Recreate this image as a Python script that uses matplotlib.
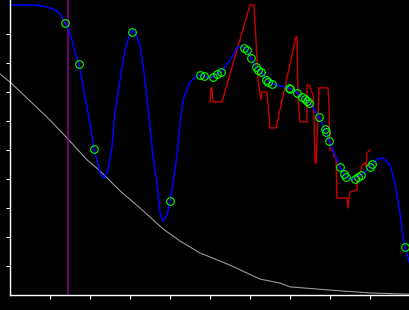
import matplotlib
matplotlib.use("Agg")
import matplotlib.pyplot as plt

# smooth fit (blue)
fit_x = [0.0, 0.55, 0.875, 1.125, 1.25, 1.375, 1.45, 1.55, 1.625, 1.725, 1.8, 1.875,
         1.95, 2.0, 2.075, 2.1, 2.175, 2.25, 2.35, 2.45, 2.55, 2.625, 2.75, 2.875,
         3.0, 3.075, 3.15, 3.25, 3.375, 3.5, 3.575, 3.675, 3.75, 3.825, 3.925, 4.0,
         4.075, 4.175, 4.25, 4.325, 4.5, 4.625, 4.75, 4.85, 4.95, 5.075, 5.175, 5.275,
         5.5, 5.675, 5.8, 5.925, 6.025, 6.15, 6.275, 6.425, 6.575, 6.75, 6.975, 7.175,
         7.375, 7.5, 7.725, 7.9, 8.0, 8.125, 8.25, 8.4, 8.55, 8.7, 8.875, 9.05,
         9.2, 9.325, 9.5, 9.625, 9.75, 9.825, 9.875, 10.0]
fit_y = [10.0, 10.0, 9.95, 9.83, 9.69, 9.41, 9.21, 8.79, 8.38, 7.97, 7.41, 6.83,
         6.28, 5.93, 5.24, 5.03, 4.66, 4.21, 4.03, 4.31, 5.10, 6.28, 7.41, 8.45,
         9.03, 9.14, 8.97, 8.62, 7.41, 5.79, 4.83, 3.86, 2.83, 2.55, 2.76, 3.24,
         3.86, 4.83, 5.86, 6.72, 7.34, 7.52, 7.59, 7.55, 7.48, 7.52, 7.62, 7.69,
         8.10, 8.52, 8.59, 8.45, 8.17, 7.86, 7.69, 7.41, 7.28, 7.21, 7.14, 6.97,
         6.76, 6.62, 6.14, 5.62, 5.24, 4.83, 4.41, 4.07, 3.97, 4.07, 4.24, 4.52,
         4.69, 4.72, 4.48, 3.86, 2.83, 2.0, 1.66, 1.03]

# sampled points (green circles)
pts_x = [1.375, 1.725, 2.1, 3.05, 4.0, 4.75, 4.85, 5.075, 5.175, 5.275,
         5.85, 5.925, 6.025, 6.15, 6.2, 6.275, 6.4, 6.45, 6.55, 6.975,
         7.0, 7.175, 7.3, 7.375, 7.425, 7.475, 7.725, 7.875, 7.9, 7.975,
         8.25, 8.35, 8.4, 8.625, 8.7, 8.775, 9.0, 9.05, 9.875]
pts_y = [9.38, 7.97, 5.03, 9.07, 3.24, 7.59, 7.55, 7.52, 7.62, 7.69,
         8.52, 8.45, 8.17, 7.86, 7.76, 7.69, 7.41, 7.34, 7.28, 7.14,
         7.10, 6.97, 6.83, 6.76, 6.69, 6.62, 6.14, 5.72, 5.62, 5.31,
         4.41, 4.17, 4.07, 4.0, 4.07, 4.14, 4.41, 4.52, 1.66]

# raw signal (red)
raw_x = [5.0, 5.025, 5.05, 5.075, 5.3, 6.0, 6.1, 6.15, 6.2, 6.275, 6.3, 6.425,
         6.45, 6.5, 6.65, 7.15, 7.175, 7.2, 7.25, 7.425, 7.425, 7.475, 7.55, 7.575,
         7.6, 7.625, 7.65, 7.675, 7.725, 7.95, 7.975, 8.0, 8.075, 8.1, 8.15, 8.175,
         8.425, 8.45, 8.475, 8.5, 8.675, 8.675, 8.75, 8.8, 8.875, 8.9, 8.925, 9.0]
raw_y = [6.66, 7.14, 7.14, 6.66, 6.66, 10.0, 10.0, 8.79, 7.41, 6.72, 7.0, 7.0,
         6.55, 5.76, 5.76, 8.90, 8.90, 6.72, 5.97, 5.97, 7.24, 7.24, 7.0, 6.90,
         6.14, 4.55, 4.55, 5.28, 7.14, 7.14, 6.55, 5.0, 5.0, 4.76, 4.76, 3.34,
         3.34, 3.0, 3.34, 3.55, 3.62, 3.90, 4.07, 4.48, 4.55, 4.41, 4.90, 5.0]

# decaying curve (gray)
decay_x = [-0.25, 0.025, 0.5, 1.0, 1.45, 1.925, 2.25, 2.75, 3.25, 3.825, 4.25,
           4.75, 5.5, 6.25, 6.75, 7.0, 8.0, 9.0, 10.0]
decay_y = [7.62, 7.31, 6.69, 6.03, 5.38, 4.66, 4.28, 3.59, 3.0, 2.28, 1.86,
           1.45, 1.03, 0.55, 0.41, 0.28, 0.17, 0.07, 0.03]

marker_x = 1.45

y_lo, y_hi = -0.517, 10.17

fig = plt.figure(figsize=(4.1, 3.1), dpi=100)
fig.patch.set_facecolor("black")
ax = fig.add_axes([0, 0, 1, 1])
ax.set_facecolor("black")

ax.plot(decay_x, decay_y, color="#999999", lw=0.8)
ax.axvline(marker_x, ymin=-y_lo / (y_hi - y_lo), ymax=1.0, color="#8b008b", lw=1.1)
ax.plot(raw_x, raw_y, color="#cc0000", lw=1.0)
ax.plot(fit_x, fit_y, color="#0000ff", lw=1.1)
ax.plot(pts_x, pts_y, "o", mfc="none", mec="#00ff00", mew=0.8, ms=5.5)

ax.set_xlim(-0.25, 10.0)
ax.set_ylim(y_lo, y_hi)

for s in ["top", "right"]:
    ax.spines[s].set_visible(False)
ax.spines["left"].set_position(("data", 0))
ax.spines["bottom"].set_position(("data", 0))
ax.spines["left"].set_bounds(0, y_hi)
ax.spines["bottom"].set_bounds(0, 10.0)
for s in ["left", "bottom"]:
    ax.spines[s].set_color("white")
    ax.spines[s].set_linewidth(1.0)

ax.set_xticks(range(1, 10))
ax.set_yticks(range(1, 10))
ax.tick_params(colors="white", direction="out", length=2.8, width=0.8,
               labelleft=False, labelbottom=False)

fig.savefig("out.png", dpi=100, facecolor="black")
